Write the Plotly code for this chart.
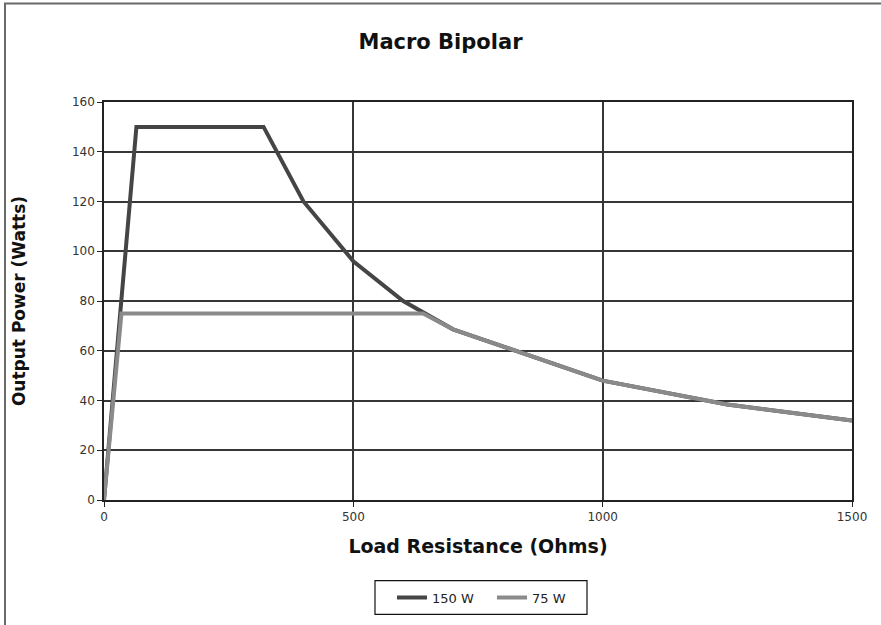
import plotly.graph_objects as go

# Load resistance (ohms) and output power (watts) for each power setting
r_150 = [0, 65, 320, 400, 500, 600, 700, 1000, 1250, 1500]
p_150 = [0, 150, 150, 120, 96, 80, 68.6, 48, 38.4, 32]

r_75 = [0, 35, 640, 700, 1000, 1250, 1500]
p_75 = [0, 75, 75, 68.6, 48, 38.4, 32]

series_names = ["150 W", "75 W"]
x_ticks = [0, 500, 1000, 1500]
y_ticks = [0, 20, 40, 60, 80, 100, 120, 140, 160]

FONT = "DejaVu Sans"
GRID = "#363636"
PW, PH, L, B = 748, 400, 104, 502  # plot box size and origin in pixels


def px_x(x):
    return (x - L) / PW


def px_y(y):
    return (B - y) / PH


fig = go.Figure()
fig.add_trace(go.Scatter(x=r_150, y=p_150, mode="lines", name=series_names[0],
                         line=dict(color="#454545", width=4)))
fig.add_trace(go.Scatter(x=r_75, y=p_75, mode="lines", name=series_names[1],
                         line=dict(color="#8a8a8a", width=4)))

fig.update_layout(
    width=881, height=625,
    margin=dict(l=104, r=29, t=102, b=123),
    paper_bgcolor="white", plot_bgcolor="white",
    font=dict(family=FONT, color="#222"),
    title=dict(text="<b>Macro Bipolar</b>", x=0.5, xanchor="center",
               y=1 - 42 / 625, yanchor="middle",
               font=dict(family=FONT, size=21, color="#111")),
    showlegend=True,
    legend=dict(orientation="h", x=px_x(392), xanchor="left",
                y=px_y(600), yanchor="middle",
                borderwidth=0, bgcolor="rgba(0,0,0,0)",
                font=dict(family=FONT, size=13, color="#222"),
                itemwidth=30, entrywidth=55, traceorder="normal"),
)

fig.update_xaxes(
    range=[0, 1500], tickvals=x_ticks, ticktext=[str(v) for v in x_ticks],
    showgrid=True, gridcolor=GRID, gridwidth=1.5, zeroline=False,
    showline=True, linecolor="#222", linewidth=1.5, mirror=True,
    ticks="outside", ticklen=5, tickcolor="#222",
    tickfont=dict(family=FONT, size=12, color="#333"),
    title=dict(text="<b>Load Resistance (Ohms)</b>", standoff=17,
               font=dict(family=FONT, size=19, color="#111")),
)
fig.update_yaxes(
    range=[0, 160], tickvals=y_ticks, ticktext=[str(v) for v in y_ticks],
    showgrid=True, gridcolor=GRID, gridwidth=1.5, zeroline=False,
    showline=True, linecolor="#222", linewidth=1.5, mirror=True,
    ticks="outside", ticklen=5, tickcolor="#222",
    tickfont=dict(family=FONT, size=12, color="#333"),
    title=dict(text="<b>Output Power (Watts)</b>", standoff=42,
               font=dict(family=FONT, size=17, color="#111")),
)

# Outer chart frame (left and top edges fall inside the page)
fig.add_shape(type="rect", xref="paper", yref="paper",
              x0=px_x(5), x1=px_x(890), y0=px_y(640), y1=px_y(3),
              line=dict(color="#6a6a6a", width=2), fillcolor="rgba(0,0,0,0)",
              layer="below")
# Legend frame
fig.add_shape(type="rect", xref="paper", yref="paper",
              x0=px_x(375), x1=px_x(587), y0=px_y(617), y1=px_y(583),
              line=dict(color="#111", width=1.2), fillcolor="white",
              layer="below")

fig.write_html("out.html")
